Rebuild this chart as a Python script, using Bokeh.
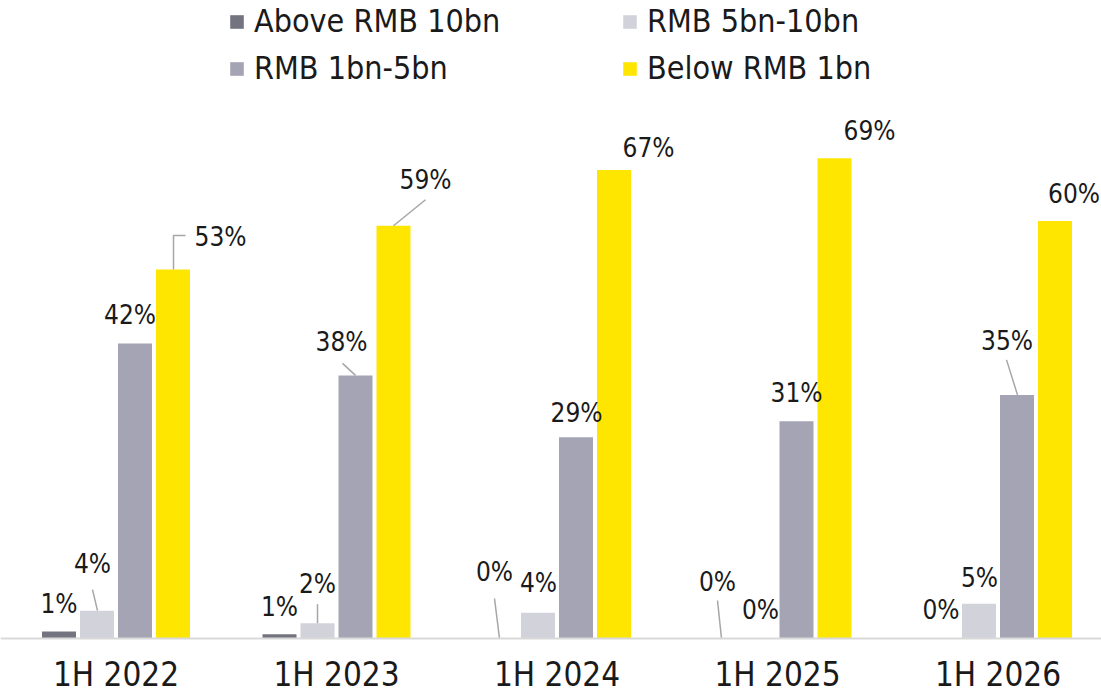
from bokeh.plotting import figure
from bokeh.models import ColumnDataSource, Range1d, Legend, LegendItem, Span
from bokeh.transform import dodge
from bokeh.core.properties import value
from bokeh.embed import file_html
from bokeh.resources import INLINE

# ---------------- data ----------------
categories = ["1H 2022", "1H 2023", "1H 2024", "1H 2025", "1H 2026"]
above_10bn = [1.0, 0.6, 0.0, 0.0, 0.0]
rmb_5_10bn = [4.0, 2.2, 3.7, 0.0, 5.0]
rmb_1_5bn = [42.4, 37.8, 28.9, 31.2, 35.0]
below_1bn = [53.0, 59.3, 67.3, 69.0, 60.0]

series_names = ["Above RMB 10bn", "RMB 5bn-10bn", "RMB 1bn-5bn", "Below RMB 1bn"]
series_keys = ["above", "m510", "m15", "below"]
series_vals = [above_10bn, rmb_5_10bn, rmb_1_5bn, below_1bn]
colors = ["#747480", "#d2d2da", "#a4a4b4", "#ffe600"]

# ---------------- layout (pixels) ----------------
W, H = 1101, 695
BASELINE = 638         # pixel row of the zero line
PX_X = 220.5           # pixels per category
PX_Y = 6.96            # pixels per percentage point
FIRST_CENTER = 115.5   # first group centre, from figure left
BAR_W_PX = 34
BAR_OFF_PX = [-57, -19, 19, 57]

x_start = -FIRST_CENTER / PX_X
x_end = x_start + W / PX_X
y_start = -(H - BASELINE) / PX_Y
y_end = BASELINE / PX_Y

# label offsets: (dx px, up px) from bar top-centre
label_off = {
    "above": [(0, 28), (0, 27), (-5.5, 67), (-3, 57), (0, 29)],
    "m510": [(-4.5, 47), (0, 39), (0.5, 30), (2, 29), (0.5, 26)],
    "m15": [(-5, 28), (-14, 33), (0.5, 24), (0, 28), (-10, 54)],
    "below": [(47.5, 33), (32, 46), (34.5, 22), (35, 27), (19, 27)],
}
# leader lines: (series, category index, [(dx, up), ...])
leaders = [
    ("m510", 0, [(-4.5, 21), (0.5, 0)]),
    ("below", 0, [(0.5, 0), (0.5, 34), (12.5, 34)]),
    ("m510", 1, [(0, 19), (0, 0)]),
    ("m15", 1, [(-13, 12), (0, 0)]),
    ("below", 1, [(0, 0), (32, 26)]),
    ("above", 2, [(-5.5, 40), (-0.5, 0)]),
    ("above", 3, [(-3, 38), (1, 0)]),
    ("m15", 4, [(-10.5, 35), (0.5, 0)]),
]

FONT = "DejaVu Sans Condensed"
TEXT_COLOR = "#1a1a1a"

p = figure(width=W, height=H, output_backend="svg", toolbar_location=None,
           x_range=Range1d(x_start, x_end), y_range=Range1d(y_start, y_end),
           min_border_left=0, min_border_right=0, min_border_top=0,
           min_border_bottom=0)
p.background_fill_color = "white"
p.border_fill_color = "white"
p.outline_line_color = None
p.grid.visible = False
p.xaxis.visible = False
p.yaxis.visible = False

idx = list(range(len(categories)))
src = ColumnDataSource(dict(idx=idx, above=above_10bn, m510=rmb_5_10bn,
                            m15=rmb_1_5bn, below=below_1bn))

# zero line
p.add_layout(Span(location=0, dimension="width", line_color="#d9d9d9", line_width=2))

renderers = []
for k, key in enumerate(series_keys):
    r = p.vbar(x=dodge("idx", BAR_OFF_PX[k] / PX_X, range=p.x_range), top=key,
               bottom=0, width=BAR_W_PX / PX_X, source=src,
               fill_color=colors[k], line_color=None)
    renderers.append(r)

# leader lines
lx, ly = [], []
for key, ci, pts in leaders:
    k = series_keys.index(key)
    bx = ci + BAR_OFF_PX[k] / PX_X
    by = series_vals[k][ci]
    lx.append([bx + dx / PX_X for dx, up in pts])
    ly.append([by + up / PX_Y for dx, up in pts])
p.multi_line(xs=lx, ys=ly, line_color="#a6a6a6", line_width=1.5)

# value labels
tx, ty, tt = [], [], []
for k, key in enumerate(series_keys):
    for ci in idx:
        v = series_vals[k][ci]
        dx, up = label_off[key][ci]
        tx.append(ci + (BAR_OFF_PX[k] + dx) / PX_X)
        ty.append(v + up / PX_Y)
        tt.append(f"{round(v)}%")
p.text(x=tx, y=ty, text=tt, text_font=value(FONT), text_font_size="26px",
       text_color=TEXT_COLOR, text_align="center", text_baseline="middle")

# category labels
p.text(x=idx, y=[0] * len(idx), text=categories, y_offset=36,
       text_font=value(FONT), text_font_size="33px", text_color=TEXT_COLOR,
       text_align="center", text_baseline="middle")

# legend
items = [LegendItem(label=series_names[k], renderers=[renderers[k]]) for k in range(4)]
legend = Legend(items=items, orientation="horizontal", ncols=2,
                location=(228, H - 88),
                glyph_width=17, glyph_height=17, label_standoff=9,
                label_width=360, label_height=40, spacing=7, padding=0, margin=0,
                label_text_font=FONT, label_text_font_size="32px",
                label_text_color=TEXT_COLOR,
                border_line_color=None, background_fill_alpha=0)
p.add_layout(legend)

open("out.html", "w").write(file_html(p, INLINE))
